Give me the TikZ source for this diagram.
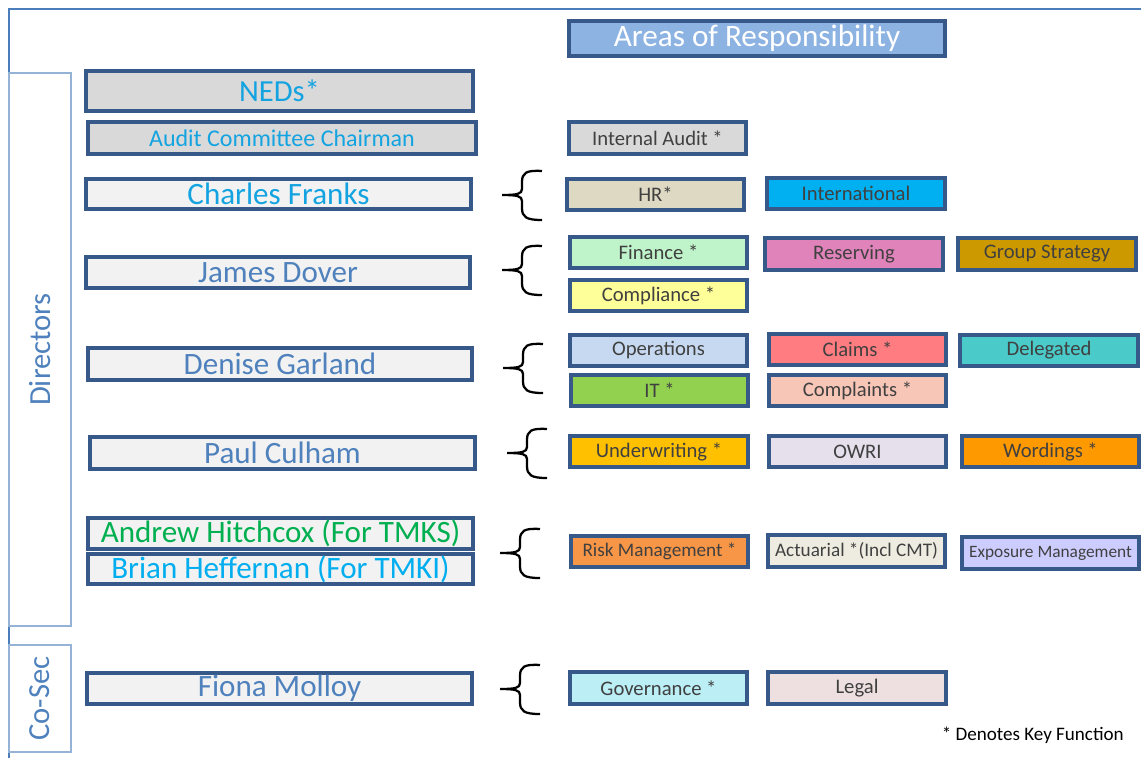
\documentclass[tikz,border=0pt]{standalone}
\usepackage{fontspec}
\setmainfont{Carlito}
\definecolor{bdr}{HTML}{36598A}
\definecolor{frm}{HTML}{4A7EBB}
\definecolor{frl}{HTML}{95B3D7}
\definecolor{brt}{HTML}{13A3E0}
\definecolor{cyn}{HTML}{00AEEF}
\definecolor{stl}{HTML}{4F81BD}
\definecolor{grn}{HTML}{00B050}
\definecolor{txt}{HTML}{404040}
\definecolor{cAreas}{HTML}{8DB3E2}
\definecolor{cGray}{HTML}{D9D9D9}
\definecolor{cLight}{HTML}{F2F2F2}
\definecolor{cHR}{HTML}{DDD9C3}
\definecolor{cIntl}{HTML}{00B0F0}
\definecolor{cFin}{HTML}{BFF3CA}
\definecolor{cRes}{HTML}{E083BA}
\definecolor{cGrp}{HTML}{CC9900}
\definecolor{cComp}{HTML}{FFFF99}
\definecolor{cOps}{HTML}{C6D9F1}
\definecolor{cClm}{HTML}{FF7C80}
\definecolor{cDel}{HTML}{4BCACA}
\definecolor{cIT}{HTML}{92D050}
\definecolor{cCpl}{HTML}{F8C6B6}
\definecolor{cUW}{HTML}{FFC000}
\definecolor{cOWRI}{HTML}{E6E0EC}
\definecolor{cWrd}{HTML}{FF9900}
\definecolor{cRisk}{HTML}{F79646}
\definecolor{cAct}{HTML}{EEECE1}
\definecolor{cExp}{HTML}{CCCCFF}
\definecolor{cGov}{HTML}{BCEEF5}
\definecolor{cLeg}{HTML}{EEE0E0}
\newcommand\rbox[7]{\node[#6, minimum width={(#4-#2)*0.75pt}, minimum height={(#5-#3)*0.75pt}] (#1) at ({(#2+#4)/2},{(#3+#5)/2}) {#7};}
\tikzset{
  base/.style={draw=bdr, line width=2.3pt, inner sep=0pt, outer sep=0pt, rectangle},
  namebox/.style={base, fill=cLight, font=\fontsize{23.3}{27}\selectfont},
  areabox/.style={base, text=txt, font=\fontsize{15.5}{18}\selectfont},
  smallarea/.style={font=\fontsize{14.4}{17}\selectfont},
  grouptxt/.style={text=stl, font=\fontsize{23}{27}\selectfont, rotate=90},
  curlyb/.pic={
    \draw[line width=1.7pt, black] (40,-24) .. controls (24,-25) and (20,-22) .. (20,-13) -- (20,-6) .. controls (20,-1) and (15,0) .. (0,0) .. controls (15,0) and (20,1) .. (20,6) -- (20,13) .. controls (20,22) and (24,25) .. (40,25);
  }
}
\begin{document}
\begin{tikzpicture}[x=0.75pt, y=-0.75pt]
\useasboundingbox (0,0) rectangle (1141,758);
% frame
\coordinate (ftl) at (9,9);
\coordinate (ftr) at (1141,9);
\coordinate (fbl) at (9,758);
\draw[frm, line width=1.2pt] (ftr) -- (ftl) -- (fbl);
\node[draw=frl, line width=0.9pt, minimum width={62*0.75pt}, minimum height={553*0.75pt}, inner sep=0pt] (dirbox) at (40,349.5) {};
\node[grouptxt] (dirtxt) at (dirbox.center) {Directors};
\node[draw=frl, line width=0.9pt, minimum width={62*0.75pt}, minimum height={107*0.75pt}, inner sep=0pt] (cosbox) at (40,698.5) {};
\node[grouptxt] (costxt) at (cosbox.center) {Co-Sec};
% header
\rbox{areas}{569}{21}{945}{56}{base, fill=cAreas, text=white, font=\fontsize{23.4}{27}\selectfont}{Areas of Responsibility}
% left column
\rbox{neds}{86}{71}{473}{111}{base, fill=cGray, text=brt, font=\fontsize{23}{27}\selectfont}{NEDs*}
\rbox{acc}{88}{122}{476}{154}{base, fill=cGray, text=brt, font=\fontsize{18}{21}\selectfont}{Audit Committee Chairman}
\rbox{cf}{86}{179}{471}{209}{namebox, text=brt}{Charles Franks}
\rbox{jd}{86}{257}{470}{288}{namebox, text=stl}{James Dover}
\rbox{dg}{88}{348}{472}{380}{namebox, text=stl}{Denise Garland}
\rbox{pc}{90}{437}{475}{469}{namebox, text=stl}{Paul Culham}
\rbox{ah}{88}{518}{473}{549}{namebox, text=grn}{Andrew Hitchcox (For TMKS)}
\rbox{bh}{88}{554}{473}{584}{namebox, text=cyn}{Brian Heffernan (For TMKI)}
\rbox{fm}{87}{673}{472}{704}{namebox, text=stl}{Fiona Molloy}
% areas
\rbox{ia}{569}{122}{746}{154}{areabox, fill=cGray}{Internal Audit *}
\rbox{hr}{567}{179}{744}{210}{areabox, fill=cHR}{HR*}
\rbox{intl}{767}{178}{945}{209}{areabox, fill=cIntl}{International}
\rbox{fin}{570}{237}{747}{268}{areabox, fill=cFin}{Finance *}
\rbox{res}{765}{238}{943}{270}{areabox, fill=cRes}{Reserving}
\rbox{grp}{958}{238}{1136}{270}{areabox, fill=cGrp}{Group Strategy}
\rbox{comp}{570}{280}{747}{311}{areabox, fill=cComp}{Compliance *}
\rbox{ops}{570}{335}{747}{366}{areabox, fill=cOps}{Operations}
\rbox{clm}{769}{334}{946}{365}{areabox, fill=cClm}{Claims *}
\rbox{del}{960}{335}{1138}{366}{areabox, fill=cDel}{Delegated}
\rbox{it}{571}{375}{748}{406}{areabox, fill=cIT}{IT *}
\rbox{cpl}{769}{375}{946}{406}{areabox, fill=cCpl}{Complaints *}
\rbox{uw}{570}{436}{748}{467}{areabox, fill=cUW}{Underwriting *}
\rbox{owri}{769}{436}{946}{467}{areabox, fill=cOWRI}{OWRI}
\rbox{wrd}{962}{436}{1139}{467}{areabox, fill=cWrd}{Wordings *}
\rbox{risk}{571}{536}{748}{567}{areabox, smallarea, fill=cRisk}{Risk Management *}
\rbox{act}{768}{535}{945}{567}{areabox, smallarea, fill=cAct}{Actuarial *(Incl CMT)}
\rbox{exp}{962}{537}{1139}{569}{areabox, fill=cExp, font=\fontsize{13}{15}\selectfont}{Exposure Management}
\rbox{gov}{570}{672}{747}{704}{areabox, fill=cGov}{Governance *}
\rbox{leg}{768}{672}{946}{704}{areabox, fill=cLeg}{Legal}
% braces
\pic at (502,195) {curlyb};
\pic at (502,270) {curlyb};
\pic at (503,368) {curlyb};
\pic at (507,453) {curlyb};
\pic at (500,553) {curlyb};
\pic at (500,689) {curlyb};
% note
\node[anchor=east, text=black, font=\fontsize{14.3}{17}\selectfont, inner sep=0pt] (note) at (1124,735) {* Denotes Key Function};
\end{tikzpicture}
\end{document}
